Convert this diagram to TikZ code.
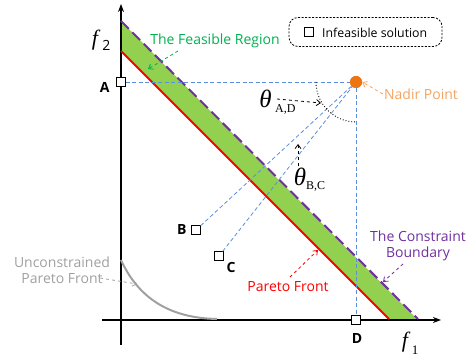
\documentclass[tikz,border=0pt]{standalone}
\usepackage{fontspec}
\setmainfont{Open Sans}
\newfontfamily\tms{Liberation Serif}
\usetikzlibrary{arrows.meta}
\definecolor{fgreen}{HTML}{92D050}
\definecolor{tgreen}{HTML}{00B050}
\definecolor{cpurple}{HTML}{7030A0}
\definecolor{cblue}{HTML}{5B8FDC}
\definecolor{corange}{HTML}{EE7511}
\definecolor{torange}{HTML}{F4A460}
\definecolor{cgray}{HTML}{A0A0A0}
\begin{document}
\begin{tikzpicture}[x=1pt,y=-1pt,
  axis/.style={line width=1.4pt,-{Stealth[length=8pt,width=6pt]}},
  sq/.style={draw,fill=white,minimum size=8.5pt,inner sep=0pt,line width=0.7pt},
  bl/.style={draw=cblue,dashed,line width=0.8pt,dash pattern=on 4pt off 2.5pt},
  lab/.style={font=\fontsize{14}{16}\selectfont\bfseries},
  ann/.style={dashed,line width=0.8pt,-{Straight Barb[length=4pt,width=6pt]}},
  txt/.style={font=\fontsize{14}{16.5}\selectfont,align=center,inner sep=1pt},
  theta/.style={font=\fontsize{25}{27}\tms\itshape,inner sep=0pt},
  fax/.style={font=\fontsize{22}{24}\tms\itshape,inner sep=0pt},
  subs/.style={font=\fontsize{12}{13}\tms,inner sep=0pt}]
\useasboundingbox (0,0) rectangle (473,358);
% feasible region
\fill[fgreen] (121,21) -- (418,320) -- (389,320) -- (121,52) -- cycle;
% axes
\coordinate (yb) at (121,345); \coordinate (yt) at (121,4);
\coordinate (xl) at (102,320); \coordinate (xr) at (441,320);
\draw[axis] (yb) -- (yt);
\draw[axis] (xl) -- (xr);
% pareto front
\coordinate (pf1) at (121,51); \coordinate (pf2) at (389,319);
\draw[red,line width=2pt] (pf1) -- (pf2);
% constraint boundary
\coordinate (cb1) at (121,21); \coordinate (cb2) at (418,319);
\draw[cpurple,line width=2pt,dash pattern=on 11pt off 5pt] (cb1) -- (cb2);
% unconstrained PF
\coordinate (u1) at (121,260); \coordinate (u2) at (217,319);
\draw[cgray,line width=2pt] (u1) .. controls (138,297) and (168,318) .. (u2);
% points
\node[circle,fill=corange,minimum size=12pt,inner sep=0pt] (N) at (356,82) {};
\node[sq] (A) at (121,82) {};
\node[sq] (B) at (196,230) {};
\node[sq] (C) at (219,256) {};
\node[sq] (D) at (356,320) {};
\draw[bl] (A) -- (N.center);
\draw[bl] (B) -- (N.center);
\draw[bl] (C) -- (N.center);
\draw[bl] (N.center) -- (D);
\node[sq] at (121,82) {};
\node[sq] at (356,320) {};
\node[circle,fill=corange,minimum size=12pt,inner sep=0pt] at (356,82) {};
\node[lab,anchor=east] (lA) at (113,87) {A};
\node[lab,anchor=east] (lB) at (190,230) {B};
\node[lab] (lC) at (231,267) {C};
\node[lab] (lD) at (357,338) {D};
% arc
\coordinate (ar1) at (316,82); \coordinate (ar2) at (356,122);
\draw[black,dotted,line width=0.9pt] (ar1) .. controls (316,104) and (334,122) .. (ar2);
% theta labels
\node[theta] (tAD) at (265.5,99) {θ};
\node[subs,anchor=west] (sAD) at (275,109.5) {A,D};
\coordinate (tADs) at (277,99); \coordinate (tADe) at (321,103);
\draw[ann] (tADs) -- (tADe);
\node[theta] (tBC) at (300,177) {θ};
\node[subs,anchor=west] (sBC) at (306,186) {B,C};
\coordinate (tBCs) at (298,166); \coordinate (tBCe) at (298,144);
\draw[ann] (tBCs) -- (tBCe);
% axis labels
\node[fax] (f2) at (95,40) {f};
\node[subs,font=\fontsize{14}{15}\selectfont] (s2) at (106.5,45.5) {2};
\node[fax] (f1) at (405,342) {f};
\node[subs,font=\fontsize{13}{15}\tms] (s1) at (415,350) {1};
% legend
\node[draw,dashed,rounded corners=9pt,minimum width=153pt,minimum height=29pt,line width=0.8pt,dash pattern=on 2pt off 1.5pt] (leg) at (365.5,32) {};
\node[sq,minimum size=9pt] (lsq) at (309,32) {};
\node[txt,anchor=west,font=\fontsize{12.3}{14}\selectfont] (ltxt) at (321,33) {Infeasible solution};
% annotations
\node[txt,text=tgreen] (tfr) at (215,41) {The Feasible Region};
\coordinate (tfre) at (148,69); \coordinate (tfrs) at (178,51);
\draw[ann,tgreen] (tfrs) -- (tfre);
\node[txt,text=torange] (tnp) at (421,94) {Nadir Point};
\draw[ann,torange] (tnp.west) -- (N.east);
\node[txt,text=red] (tpf) at (288,287) {Pareto Front};
\coordinate (tpfe) at (318,250); \coordinate (tpfs) at (290,277);
\draw[ann,red] (tpfs) -- (tpfe);
\node[txt,text=cpurple] (tcb) at (418,246) {The Constraint\\Boundary};
\coordinate (tcbe) at (383,282); \coordinate (tcbs) at (403,264);
\draw[ann,cpurple] (tcbs) -- (tcbe);
\node[txt,text=cgray] (tup) at (62,270) {Unconstrained\\Pareto Front};
\coordinate (tupe) at (137,284); \coordinate (tups) at (100,278);
\draw[ann,cgray] (tups) -- (tupe);
\end{tikzpicture}
\end{document}
